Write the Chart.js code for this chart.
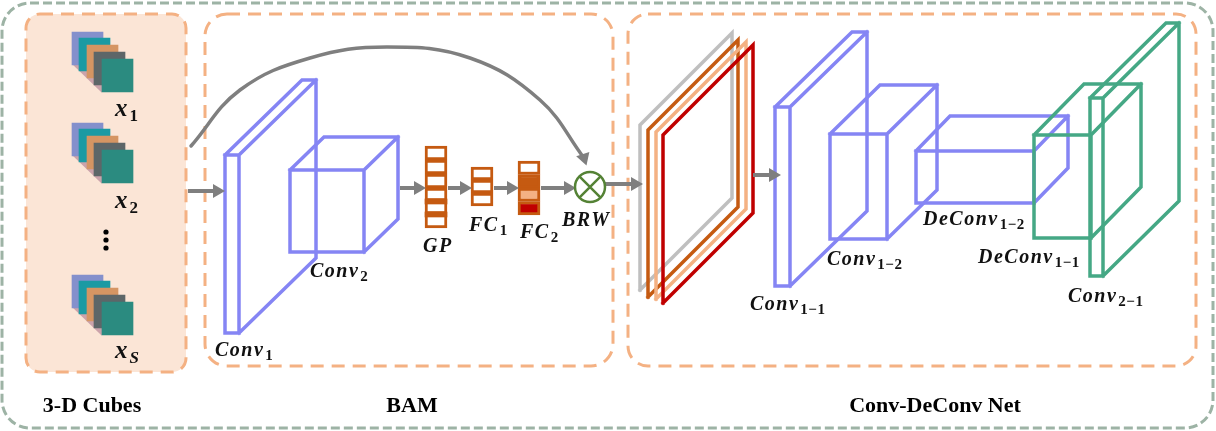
<!DOCTYPE html>
<html>
<head>
<meta charset="utf-8">
<title>BAM + Conv-DeConv Net</title>
<script src="https://cdn.jsdelivr.net/npm/chart.js@4.4.0/dist/chart.umd.min.js"></script>
<style>
  html, body { margin: 0; padding: 0; background: #fff; }
  #wrap { width: 1216px; height: 431px; }
</style>
</head>
<body>
<div id="wrap"><canvas id="diagram"></canvas></div>
<script>
// panels: [x, y, w, h, radius]
var outerPanel = [2, 3, 1211, 425, 28];
var panelBoxes = [[26, 14, 160, 358, 14], [205, 14, 408, 352, 22], [628, 14, 568, 352, 20]];
var panelTitles = ['3-D Cubes', 'BAM', 'Conv-DeConv Net'];
var panelTitleX = [92, 412, 935];

// input cubes: 5 band layers per stack
var stackTops = [32, 123, 275];
var layerShift = [[0, 0], [7, 6], [15, 13], [22, 20], [30, 27]];
var layerColors = ['#8490cc', '#1b9aa3', '#d59563', '#5d6668', '#2b8b80'];
var dotsY = [232, 240, 248];

// 3-D boxes: [x, y, w, h, dx, dy]
var blueBoxes = [[225, 155, 14, 178, 77, 75], [290, 170, 74, 82, 34, 33],
                 [775, 107, 15, 179, 77, 75], [830, 134, 57, 105, 50, 49],
                 [916, 151, 118, 52, 34, 35]];
var greenBoxes = [[1034, 135, 57, 103, 50, 51], [1090, 98, 13, 178, 76, 75]];

// weighted band frames: [x, y, h, d]
var frames = [[640, 125, 165, 92], [648, 130, 167, 90], [656, 132, 167, 90], [663, 135, 168, 90]];
var frameColors = ['#bfbfbf', '#c55a11', '#f4b183', '#c00000'];

// vectors
var gpEdges = [146, 160, 174, 188, 201, 214, 228];
var gpBands = [[199, 204], [212, 217]];
var fc1Edges = [167, 180, 193, 206];
var fc2Edges = [161, 174.5, 188, 201.5, 215];
var fc2Fills = ['#ffffff', '#c55a11', '#f4b183', '#c00000'];
var vectorX = [436, 482, 529];

// arrows: [x0, y0, x1, y1]
var arrows = [[188, 191, 225, 191], [400, 188, 426, 188], [448, 188, 472, 188],
              [494, 188, 519, 188], [541, 188, 576, 188], [605, 184, 643, 184],
              [753, 175, 781, 175]];
var skipCurve = [[191, 146], [240, 90], [310, 58], [387, 47], [470, 58], [540, 100], [584, 158]];
var brw = [590, 187];

// labels: [main, sub, x, baseline]
var mathLabels = [['Conv', '1', 215, 356], ['Conv', '2', 310, 277], ['GP', '', 423, 252],
                  ['FC', '1', 469, 231], ['FC', '2', 520, 238], ['BRW', '', 562, 226],
                  ['Conv', '1\u22121', 750, 310], ['Conv', '1\u22122', 827, 265],
                  ['DeConv', '1\u22122', 923, 225], ['DeConv', '1\u22121', 978, 263],
                  ['Conv', '2\u22121', 1068, 302]];
var cubeLabels = [['x', '1', 115, 116], ['x', '2', 115, 208], ['x', 'S', 115, 358]];

var GRAY = '#7f7f7f', BROWN = '#c55a11';

function boxPath(b) {
  var x = b[0], y = b[1], w = b[2], h = b[3], dx = b[4], dy = b[5];
  return [
    {x: x, y: y + h}, {x: x, y: y}, {x: x + w, y: y}, {x: x + w, y: y + h}, {x: x, y: y + h},
    {x: x, y: null},
    {x: x, y: y}, {x: x + dx, y: y - dy}, {x: x + w + dx, y: y - dy},
    {x: x + w + dx, y: y + h - dy}, {x: x + w, y: y + h},
    {x: x, y: null},
    {x: x + w, y: y}, {x: x + w + dx, y: y - dy}
  ];
}

function lineSet(data, color, width, extra) {
  var ds = {type: 'line', data: data, borderColor: color, borderWidth: width, pointRadius: 0,
            fill: false, tension: 0, spanGaps: false, borderJoinStyle: 'miter', borderCapStyle: 'square'};
  for (var k in extra) ds[k] = extra[k];
  return ds;
}

function cellSet(edges, cx, fills) {
  var data = [], bg = [];
  for (var i = 0; i < edges.length - 1; i++) {
    data.push({x: cx, y: [edges[i], edges[i + 1]]});
    bg.push(fills ? fills[i] : '#ffffff');
  }
  return {type: 'bar', data: data, backgroundColor: bg, borderColor: BROWN, borderWidth: 3,
          borderSkipped: false, grouped: false, barThickness: 22};
}

var datasets = [];

// cube stacks
stackTops.forEach(function (t) {
  datasets.push(lineSet([{x: 75, y: t + 30}, {x: 104, y: t + 58}], '#cba3ab', 7, {borderCapStyle: 'butt'}));
});
layerColors.forEach(function (c, j) {
  datasets.push({type: 'bar', grouped: false, barThickness: 31, borderWidth: 0, backgroundColor: c,
    data: stackTops.map(function (t) {
      return {x: 72 + layerShift[j][0] + 15.5, y: [t + layerShift[j][1], t + layerShift[j][1] + 33]};
    })});
});
datasets.push({type: 'scatter', data: dotsY.map(function (y) { return {x: 106, y: y}; }),
               pointRadius: 2.6, pointBackgroundColor: '#000', pointBorderWidth: 0});

// skip connection
datasets.push(lineSet(skipCurve.map(function (p) { return {x: p[0], y: p[1]}; }), GRAY, 3.5,
  {tension: 0.4, borderCapStyle: 'round', pointRadius: skipCurve.map(function (p, i) { return i === skipCurve.length - 1 ? 8 : 0; }),
   pointStyle: 'triangle', pointRotation: 162, pointBackgroundColor: GRAY, pointBorderColor: GRAY, pointBorderWidth: 0}));

// frames
frames.forEach(function (f, i) {
  var x = f[0], y = f[1], h = f[2], d = f[3];
  datasets.push(lineSet([{x: x, y: y + h}, {x: x, y: y}, {x: x + d, y: y - d}, {x: x + d, y: y + h - d}, {x: x, y: y + h}],
                        frameColors[i], 3.5));
});

// boxes
blueBoxes.forEach(function (b) { datasets.push(lineSet(boxPath(b), '#8585f4', 3.5)); });
greenBoxes.forEach(function (b) { datasets.push(lineSet(boxPath(b), '#45a885', 3.5)); });

// vectors
datasets.push(cellSet(gpEdges, vectorX[0]));
datasets.push({type: 'bar', grouped: false, barThickness: 22, borderWidth: 0, backgroundColor: BROWN,
               data: gpBands.map(function (b) { return {x: vectorX[0], y: b}; })});
datasets.push(cellSet(fc1Edges, vectorX[1]));
datasets.push(cellSet(fc2Edges, vectorX[2], fc2Fills));

// straight arrows
arrows.forEach(function (a) {
  var r = 8, ang = Math.atan2(a[3] - a[1], a[2] - a[0]);
  var cx = a[2] - r * Math.cos(ang), cy = a[3] - r * Math.sin(ang);
  datasets.push(lineSet([{x: a[0], y: a[1]}, {x: cx, y: cy}], GRAY, 4,
    {borderCapStyle: 'butt', pointRadius: [0, r], pointStyle: 'triangle', pointRotation: ang * 180 / Math.PI + 90,
     pointBackgroundColor: GRAY, pointBorderColor: GRAY, pointBorderWidth: 0}));
});

// BRW node
datasets.push({type: 'scatter', data: [{x: brw[0], y: brw[1]}], pointRadius: 15, pointStyle: 'circle',
               pointBackgroundColor: '#fff', pointBorderColor: '#548235', pointBorderWidth: 2.5});
datasets.push({type: 'scatter', data: [{x: brw[0], y: brw[1]}], pointRadius: 15, pointStyle: 'crossRot',
               pointBorderColor: '#548235', pointBorderWidth: 2.5});

datasets.forEach(function (d, i) { d.order = datasets.length - i; d.clip = false; });

function drawMath(ctx, main, sub, x, y, big) {
  ctx.fillStyle = '#111';
  ctx.textAlign = 'left';
  ctx.textBaseline = 'alphabetic';
  ctx.letterSpacing = big ? '1px' : '1.5px';
  ctx.font = 'italic bold ' + (big ? 25 : 20) + 'px "Liberation Serif"';
  ctx.fillText(main, x, y);
  var w = ctx.measureText(main).width;
  if (sub) {
    ctx.letterSpacing = '0.5px';
    ctx.font = (sub === 'S' ? 'italic ' : '') + 'bold ' + (big ? 17 : 15) + 'px "Liberation Serif"';
    ctx.fillText(sub, x + w + 1, y + (big ? 5 : 4));
  }
  ctx.letterSpacing = '0px';
}

var decor = {
  id: 'decor',
  beforeDatasetsDraw: function (chart) {
    var ctx = chart.ctx, sx = chart.scales.x, sy = chart.scales.y;
    function rr(b, color, dash, fillCol) {
      var x0 = sx.getPixelForValue(b[0]), y0 = sy.getPixelForValue(b[1]);
      var x1 = sx.getPixelForValue(b[0] + b[2]), y1 = sy.getPixelForValue(b[1] + b[3]);
      ctx.save();
      ctx.beginPath();
      ctx.roundRect(x0, y0, x1 - x0, y1 - y0, b[4]);
      if (fillCol) { ctx.fillStyle = fillCol; ctx.fill(); }
      ctx.setLineDash(dash);
      ctx.lineWidth = 3;
      ctx.strokeStyle = color;
      ctx.stroke();
      ctx.restore();
    }
    rr(outerPanel, '#9db3a5', [9, 4]);
    rr(panelBoxes[0], '#f4b183', [13, 8], '#fbe5d6');
    rr(panelBoxes[1], '#f4b183', [13, 8]);
    rr(panelBoxes[2], '#f4b183', [13, 8]);
  },
  afterDatasetsDraw: function (chart) {
    var ctx = chart.ctx, sx = chart.scales.x, sy = chart.scales.y;
    ctx.save();
    panelTitles.forEach(function (t, i) {
      ctx.font = 'bold 22px "Liberation Serif"';
      ctx.fillStyle = '#000';
      ctx.textAlign = 'center';
      ctx.textBaseline = 'alphabetic';
      ctx.fillText(t, sx.getPixelForValue(panelTitleX[i]), sy.getPixelForValue(412));
    });
    mathLabels.forEach(function (l) {
      drawMath(ctx, l[0], l[1], sx.getPixelForValue(l[2]), sy.getPixelForValue(l[3]), false);
    });
    cubeLabels.forEach(function (l) {
      drawMath(ctx, l[0], l[1], sx.getPixelForValue(l[2]), sy.getPixelForValue(l[3]), true);
    });
    ctx.restore();
  }
};

new Chart(document.getElementById('diagram'), {
  type: 'line',
  data: {datasets: datasets},
  options: {
    responsive: true,
    maintainAspectRatio: false,
    animation: false,
    events: [],
    layout: {padding: 0, autoPadding: false},
    plugins: {legend: {display: false}, tooltip: {enabled: false}},
    scales: {
      x: {type: 'linear', min: 0, max: 1216, display: false, offset: false},
      y: {type: 'linear', min: 0, max: 431, reverse: true, display: false, offset: false}
    }
  },
  plugins: [decor]
});
</script>
</body>
</html>
